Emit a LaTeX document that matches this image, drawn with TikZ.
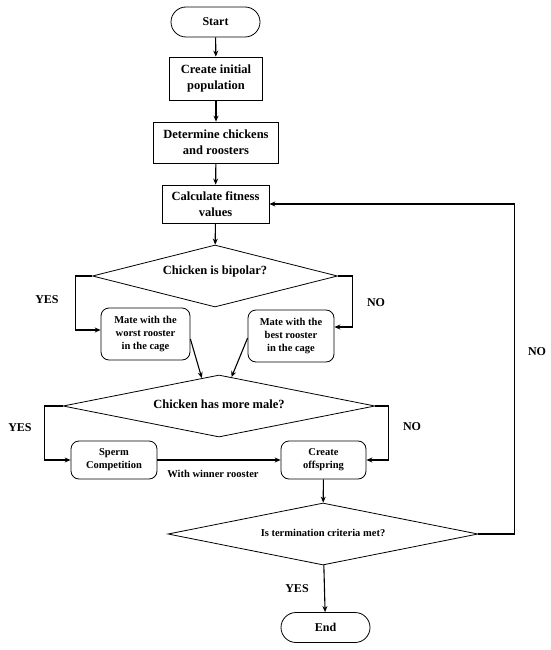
\documentclass[tikz,border=0pt]{standalone}
\usepackage{fontspec}
\setmainfont{Liberation Serif}
\usetikzlibrary{shapes.geometric,arrows.meta,calc}
\begin{document}
\begin{tikzpicture}[x=1pt,y=-1pt,
  every node/.style={font=\bfseries},
  line/.style={line width=1.1pt},
  arr/.style={line width=1.1pt,-{Stealth[length=6pt,width=5pt]}},
  term/.style={draw,line width=0.8pt,rounded corners=15pt,minimum width=89pt,minimum height=30pt,inner sep=0pt,font=\bfseries\fontsize{12}{14}\selectfont},
  box/.style={draw,line width=0.8pt,inner sep=0pt,align=center,font=\bfseries\fontsize{12.5}{16}\selectfont},
  rbox/.style={draw,line width=0.8pt,rounded corners=8pt,inner sep=0pt,align=center},
  dia/.style={draw,line width=0.8pt,diamond,inner sep=0pt,align=center},
  lbl/.style={font=\bfseries\fontsize{12}{14}\selectfont}
]
\useasboundingbox (0,0) rectangle (550,650);
\node[term] (start) at (215.5,22) {Start};
\node[box,minimum width=93pt,minimum height=43pt] (create) at (216,78.5) {Create initial\\population};
\node[box,minimum width=125pt,minimum height=41pt] (determine) at (216,142.5) {Determine chickens\\and roosters};
\node[box,minimum width=107pt,minimum height=38pt] (fitness) at (215.5,204) {Calculate fitness\\values};
\node[dia,minimum width=245pt,minimum height=62pt,aspect=3.95] (d1) at (215,276) {};
\node[font=\bfseries\fontsize{12.5}{15}\selectfont] (d1t) at (215,271) {Chicken is bipolar?};
\node[rbox,minimum width=89pt,minimum height=52pt,font=\bfseries\fontsize{10.5}{13}\selectfont] (worst) at (145.5,334) {Mate with the\\worst rooster\\in the cage};
\node[rbox,minimum width=86pt,minimum height=52pt,font=\bfseries\fontsize{10.5}{13}\selectfont] (best) at (291,336) {Mate with the\\best rooster\\in the cage};
\node[dia,minimum width=312pt,minimum height=62pt,aspect=5.03] (d2) at (219,406) {};
\node[font=\bfseries\fontsize{12.5}{15}\selectfont] (d2t) at (219,404) {Chicken has more male?};
\node[rbox,minimum width=86pt,minimum height=38pt,font=\bfseries\fontsize{10.5}{13}\selectfont] (sperm) at (114,460) {Sperm\\Competition};
\node[rbox,minimum width=85pt,minimum height=38pt,font=\bfseries\fontsize{10.5}{13}\selectfont] (offspring) at (323.5,460) {Create\\offspring};
\node[dia,minimum width=310pt,minimum height=62pt,aspect=5] (d3) at (323,534) {};
\node[font=\bfseries\fontsize{10.5}{13}\selectfont] (d3t) at (323,533) {Is termination criteria met?};
\node[term] (end) at (325.5,627.5) {End};

\draw[arr] (start) -- (create);
\draw[arr] (create) -- (determine);
\draw[arr] (determine) -- (fitness);
\draw[arr] (fitness) -- (d1);
\draw[arr] (d1.west) -- ++(-17,0) |- ([yshift=4pt]worst.west);
\draw[arr] (d1.east) -- ++(15,0) |- ([yshift=9pt]best.east);
\draw[arr] ([yshift=-5pt]worst.east) -- ($(d2.north)!0.11!(d2.west)$);
\draw[arr] ([yshift=-2pt]best.west) -- ($(d2.north)!0.08!(d2.east)$);
\draw[arr] (d2.west) -- ++(-18,0) |- (sperm.west);
\draw[arr] (d2.east) -- ++(13,0) |- (offspring.east);
\draw[arr] (sperm) -- (offspring);
\draw[arr] (offspring) -- (d3);
\draw[arr] (d3) -- (end);
\draw[arr] (d3.east) -- ++(36,0) |- (fitness.east);

\node[lbl] (y1) at (47,300) {YES};
\node[lbl] (n1) at (376,303) {NO};
\node[lbl] (y2) at (20,428) {YES};
\node[lbl] (n2) at (412,427) {NO};
\node[lbl] (n3) at (537,352) {NO};
\node[lbl] (y3) at (297,589) {YES};
\node[font=\bfseries\fontsize{10.5}{13}\selectfont] (win) at (213,474) {With winner rooster};
\end{tikzpicture}
\end{document}
